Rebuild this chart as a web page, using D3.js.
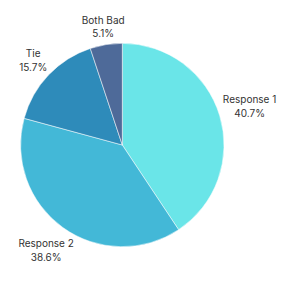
<!DOCTYPE html>
<html>
<head>
<meta charset="utf-8">
<script src="https://cdn.jsdelivr.net/npm/d3@7"></script>
<style>
  body { margin: 0; background: #fff; }
  text { font-family: Inter, "Noto Sans", sans-serif; font-size: 10px; fill: #333; }
</style>
</head>
<body>
<div id="chart"></div>
<script>
const WIDTH = 299;
const HEIGHT = 281;
const CX = 122.3, CY = 145, RADIUS = 101.7;

const labels = ["Response 1", "Response 2", "Tie", "Both Bad"];
const shares = [40.7, 38.6, 15.7, 5.1];
const colors = ["#6ae5e8", "#43b8d7", "#2e8bba", "#4e6a99"];

let svg = d3.select("#chart")
  .append("svg")
    .attr("width", WIDTH)
    .attr("height", HEIGHT);

let g = svg.append("g")
  .attr("transform", "translate(" + CX + "," + CY + ")");

let pie = d3.pie().sort(null).value(function(d) { return d.value; });
let arc = d3.arc().innerRadius(0).outerRadius(RADIUS);

let data = labels.map(function(l, i) { return {label: l, value: shares[i], color: colors[i]}; });
let arcs = pie(data);

g.selectAll("path")
  .data(arcs)
  .enter()
  .append("path")
    .attr("d", arc)
    .attr("fill", function(d) { return d.data.color; })
    .attr("stroke", "#fff")
    .attr("stroke-width", 0.5);

// outside labels, pushed out so the text box sits just past the rim
const LINE_H = 13.5;
let lab = g.selectAll("g.lab")
  .data(arcs)
  .enter()
  .append("g")
    .attr("class", "lab");

lab.append("text")
  .attr("text-anchor", "middle")
  .attr("y", -LINE_H / 2 + 3.5)
  .text(function(d) { return d.data.label; });
lab.append("text")
  .attr("text-anchor", "middle")
  .attr("y", LINE_H / 2 + 3.5)
  .text(function(d) { return d.data.value.toFixed(1) + "%"; });

lab.attr("transform", function(d) {
  let bb = this.getBBox();
  let a = (d.startAngle + d.endAngle) / 2;
  let s = Math.sin(a), c = Math.cos(a);
  let dist = RADIUS + 2 + Math.abs(s) * bb.width / 2 + Math.abs(c) * bb.height / 2;
  return "translate(" + (s * dist) + "," + (-c * dist) + ")";
});
</script>
</body>
</html>
